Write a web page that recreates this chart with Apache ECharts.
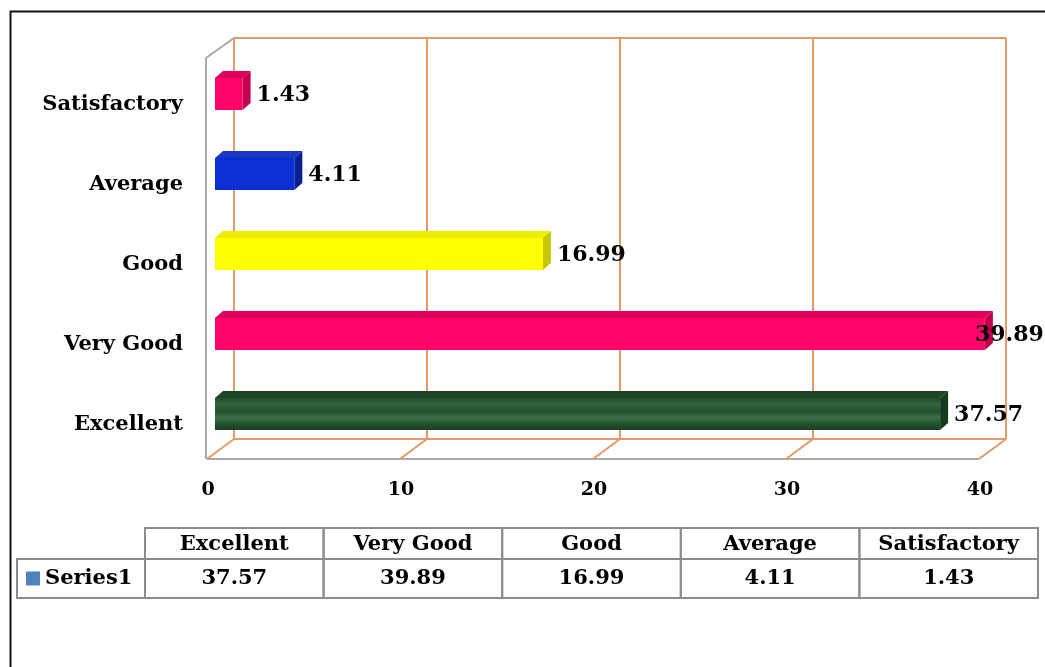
<!DOCTYPE html>
<html>
<head>
<meta charset="utf-8">
<script src="https://cdn.jsdelivr.net/npm/echarts@6/dist/echarts.min.js"></script>
<style>
  html, body { margin: 0; padding: 0; background: #fff; }
  #chart { width: 1045px; height: 667px; }
</style>
</head>
<body>
<div id="chart"></div>
<script>
// data
var categories = ['Excellent', 'Very Good', 'Good', 'Average', 'Satisfactory'];
var values = [37.57, 39.89, 16.99, 4.11, 1.43];
var xTicks = [0, 10, 20, 30, 40];
var seriesName = 'Series1';

// front / top / side colours of each bar
var barColors = [
  ['#24532d', '#1c4524', '#163a1d'],
  ['#ff056a', '#e0005a', '#c4004c'],
  ['#ffff00', '#eded00', '#c8c800'],
  ['#0b2fd2', '#1a38c4', '#0a2090'],
  ['#ff056a', '#e0005a', '#c4004c']
];

var FONT = '"DejaVu Serif", serif';
var ORANGE = '#e39a66';
var GRAY = '#a8a8a8';

var chart = echarts.init(document.getElementById('chart'));

function line(x1, y1, x2, y2, color) {
  return {
    type: 'line',
    shape: { x1: x1, y1: y1, x2: x2, y2: y2 },
    style: { stroke: color, lineWidth: 2 }
  };
}

// 3d frame: back wall grid, floor diagonals and walls
function renderFrame(params, api) {
  var cs = params.coordSys;
  var top = cs.y, bottom = cs.y + cs.height;
  var x = api.coord([api.value(0), 0])[0];
  var kids = [
    line(x + 19, top - 16, x + 19, bottom - 15, ORANGE),
    line(x - 8, bottom + 5, x + 19, bottom - 15, ORANGE)
  ];
  if (params.dataIndex === 0) {
    var x0 = api.coord([xTicks[0], 0])[0];
    var x1 = api.coord([xTicks[xTicks.length - 1], 0])[0];
    kids.push(line(x0 + 19, top - 16, x1 + 19, top - 16, ORANGE));
    kids.push(line(x0 + 19, bottom - 15, x1 + 19, bottom - 15, ORANGE));
    kids.push(line(x0 - 8, bottom + 5, x1 - 8, bottom + 5, GRAY));
    kids.push(line(x0 - 9, top + 4, x0 - 9, bottom + 5, GRAY));
    kids.push(line(x0 - 9, top + 4, x0 + 19, top - 16, GRAY));
  }
  return { type: 'group', children: kids };
}

function renderBar(params, api) {
  var i = api.value(1);
  var v = api.value(0);
  var s = api.coord([0, i]);
  var e = api.coord([v, i]);
  var h = api.size([0, 1])[1] * 0.4;
  var y = s[1] - h / 2;
  var dx = 8, dy = -7;
  var c = barColors[i];
  var front = c[0];
  if (i === 0) {
    front = new echarts.graphic.LinearGradient(0, 0, 0, 1, [
      { offset: 0, color: '#1e4a27' },
      { offset: 0.2, color: '#34683f' },
      { offset: 0.4, color: '#22502b' },
      { offset: 0.6, color: '#3a7045' },
      { offset: 0.8, color: '#24532d' },
      { offset: 1, color: '#183f20' }
    ]);
  }
  var lx = Math.min(e[0] + 14, 975);
  return {
    type: 'group',
    children: [
      { type: 'polygon', shape: { points: [[s[0], y], [s[0] + dx, y + dy], [e[0] + dx, y + dy], [e[0], y]] }, style: { fill: c[1] } },
      { type: 'polygon', shape: { points: [[e[0], y], [e[0] + dx, y + dy], [e[0] + dx, y + h + dy], [e[0], y + h]] }, style: { fill: c[2] } },
      { type: 'rect', shape: { x: s[0], y: y, width: e[0] - s[0], height: h }, style: { fill: front } },
      { type: 'text', z2: 10, style: { x: lx, y: s[1] + 1, text: values[i].toFixed(2), fill: '#000', font: 'bold 22px ' + FONT, verticalAlign: 'middle', align: 'left' } }
    ]
  };
}

// data table under the chart
function renderTable(params, api) {
  var cs = params.coordSys;
  var idx = api.value(0);
  var cx = api.coord([idx, 0])[0];
  var w = api.size([1, 0])[0];
  var hTop = cs.y, hMid = cs.y + 31, hBot = cs.y + 70;
  var cellStyle = { fill: 'none', stroke: '#8c8c8c', lineWidth: 2 };
  var kids = [
    { type: 'rect', shape: { x: cx - w / 2, y: hTop, width: w, height: hMid - hTop }, style: cellStyle },
    { type: 'rect', shape: { x: cx - w / 2, y: hMid, width: w, height: hBot - hMid }, style: cellStyle },
    { type: 'text', style: { x: cx, y: (hTop + hMid) / 2 + 1, text: categories[idx], fill: '#000', font: 'bold 21px ' + FONT, align: 'center', verticalAlign: 'middle' } },
    { type: 'text', style: { x: cx, y: (hMid + hBot) / 2, text: values[idx].toFixed(2), fill: '#000', font: 'bold 21px ' + FONT, align: 'center', verticalAlign: 'middle' } }
  ];
  if (idx === 0) {
    var lx = cx - w / 2 - 128;
    kids.push({ type: 'rect', shape: { x: lx, y: hMid, width: 128, height: hBot - hMid }, style: cellStyle });
    kids.push({ type: 'rect', shape: { x: lx + 9, y: (hMid + hBot) / 2 - 7, width: 14, height: 14 }, style: { fill: '#4f81bd' } });
    kids.push({ type: 'text', style: { x: lx + 28, y: (hMid + hBot) / 2, text: seriesName, fill: '#000', font: 'bold 21px ' + FONT, align: 'left', verticalAlign: 'middle' } });
  }
  return { type: 'group', children: kids };
}

var option = {
  backgroundColor: '#fff',
  animation: false,
  graphic: [{
    type: 'rect', left: 8, top: 9, shape: { width: 1100, height: 720 },
    style: { fill: 'none', stroke: '#111', lineWidth: 2 }, silent: true
  }],
  grid: [
    { left: 215, right: 58, top: 54, bottom: 213 },
    { left: 145, right: 7, top: 528, height: 70 }
  ],
  xAxis: [
    {
      gridIndex: 0, type: 'value', min: 0, max: 40, interval: 10,
      splitLine: { show: false }, axisLine: { show: false }, axisTick: { show: false },
      axisLabel: { color: '#000', fontFamily: FONT, fontWeight: 'bold', fontSize: 19, margin: 27, padding: [0, 14, 0, 0] }
    },
    { gridIndex: 1, type: 'category', data: categories, show: false }
  ],
  yAxis: [
    {
      gridIndex: 0, type: 'category', data: categories,
      axisLine: { show: false }, axisTick: { show: false }, splitLine: { show: false },
      axisLabel: { color: '#000', fontFamily: FONT, fontWeight: 'bold', fontSize: 21, margin: 32, verticalAlign: 'top', padding: [0, 0, 0, 0] }
    },
    { gridIndex: 1, type: 'value', show: false, min: 0, max: 1 }
  ],
  series: [
    {
      type: 'custom', name: 'frame', xAxisIndex: 0, yAxisIndex: 0, z: 1,
      data: xTicks.map(function (t) { return [t]; }),
      renderItem: renderFrame, silent: true
    },
    {
      type: 'custom', name: seriesName, xAxisIndex: 0, yAxisIndex: 0, z: 2,
      data: values.map(function (v, i) { return [v, i]; }),
      renderItem: renderBar
    },
    {
      type: 'custom', name: 'table', xAxisIndex: 1, yAxisIndex: 1,
      data: categories.map(function (c, i) { return [i, 0]; }),
      renderItem: renderTable, silent: true
    }
  ]
};

chart.setOption(option);
</script>
</body>
</html>
